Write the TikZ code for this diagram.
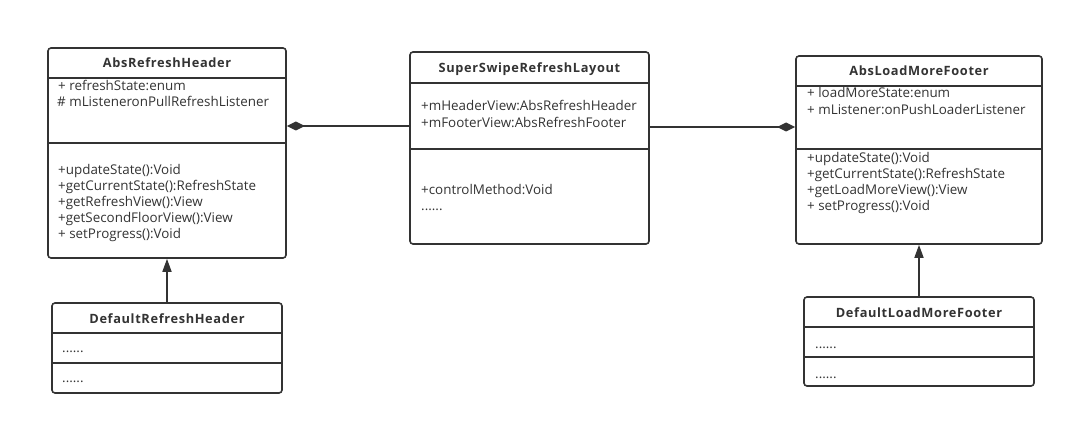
\documentclass[tikz,border=0pt]{standalone}
\usepackage{fontspec}
\setmainfont{Open Sans}
\newfontfamily\titlefont[LetterSpace=5]{Open Sans}
\usetikzlibrary{arrows.meta}
\definecolor{ink}{HTML}{333333}
\tikzset{
  classbox/.style={draw=ink, line width=1.6pt, rounded corners=3pt, inner sep=0pt},
  sep/.style={draw=ink, line width=1.6pt},
  title/.style={anchor=base, inner sep=0pt, text=ink, font=\titlefont\bfseries\fontsize{12.8}{14}\selectfont},
  item/.style={anchor=base west, inner sep=0pt, text=ink, font=\fontsize{13.4}{15}\selectfont},
  compo/.style={draw=ink, line width=1.6pt, -{Diamond[length=18pt,width=9pt]}},
  inherit/.style={draw=ink, line width=1.6pt, -{Triangle[length=13pt,width=9pt]}}
}
\begin{document}
\begin{tikzpicture}[x=1pt,y=-1pt]
				\useasboundingbox (0,0) rectangle (1076,425);
				\node[classbox, minimum width=238pt, minimum height=210pt] (hdr) at (167,153) {};
				\node[classbox, minimum width=239pt, minimum height=192pt] (swipe) at (529.5,148) {};
				\node[classbox, minimum width=246pt, minimum height=188pt] (ftr) at (919,150) {};
				\node[classbox, minimum width=230pt, minimum height=90pt] (dhdr) at (167,348) {};
				\node[classbox, minimum width=230pt, minimum height=89pt] (dftr) at (919,341.5) {};
				
				\draw[sep] (hdr.west |- 0,78) -- (hdr.east |- 0,78);
				\draw[sep] (hdr.west |- 0,143) -- (hdr.east |- 0,143);
				\draw[sep] (swipe.west |- 0,83) -- (swipe.east |- 0,83);
				\draw[sep] (swipe.west |- 0,149) -- (swipe.east |- 0,149);
				\draw[sep] (ftr.west |- 0,86) -- (ftr.east |- 0,86);
				\draw[sep] (ftr.west |- 0,149) -- (ftr.east |- 0,149);
				\draw[sep] (dhdr.west |- 0,333) -- (dhdr.east |- 0,333);
				\draw[sep] (dhdr.west |- 0,363) -- (dhdr.east |- 0,363);
				\draw[sep] (dftr.west |- 0,327) -- (dftr.east |- 0,327);
				\draw[sep] (dftr.west |- 0,357) -- (dftr.east |- 0,357);
				
				\node[title] (hdrname) at (167,68) {AbsRefreshHeader};
				\node[title] (swipename) at (529.5,73) {SuperSwipeRefreshLayout};
				\node[title] (ftrname) at (919,76) {AbsLoadMoreFooter};
				\node[title] (dhdrname) at (167,323) {DefaultRefreshHeader};
				\node[title] (dftrname) at (919,317) {DefaultLoadMoreFooter};
				
				\node[item] (hdra1) at (58,91) {+ refreshState:enum};
				\node[item] (hdra2) at (57,107) {\# mListeneronPullRefreshListener};
				\node[item] (hdrm1) at (58,174) {+updateState():Void};
				\node[item] (hdrm2) at (58,190) {+getCurrentState():RefreshState};
				\node[item] (hdrm3) at (58,206) {+getRefreshView():View};
				\node[item] (hdrm4) at (58,222) {+getSecondFloorView():View};
				\node[item] (hdrm5) at (58,238) {+ setProgress():Void};
				
				\node[item] (swipea1) at (421,111) {+mHeaderView:AbsRefreshHeader};
				\node[item] (swipea2) at (421,128) {+mFooterView:AbsRefreshFooter};
				\node[item] (swipem1) at (421,194) {+controlMethod:Void};
				\node[item] (swipem2) at (421,210) {......};
				
				\node[item] (ftra1) at (807,98) {+ loadMoreState:enum};
				\node[item] (ftra2) at (807,115) {+ mListener:onPushLoaderListener};
				\node[item] (ftrm1) at (807,162) {+updateState():Void};
				\node[item] (ftrm2) at (807,178) {+getCurrentState():RefreshState};
				\node[item] (ftrm3) at (807,194) {+getLoadMoreView():View};
				\node[item] (ftrm4) at (807,210) {+ setProgress():Void};
				
				\node[item] (dhdra) at (62,352) {......};
				\node[item] (dhdrm) at (62,382) {......};
				\node[item] (dftra) at (815,348) {......};
				\node[item] (dftrm) at (815,378) {......};
				
				\draw[compo] (swipe.west |- 0,126) -- (hdr.east |- 0,126);
				\draw[compo] (swipe.east |- 0,127) -- (ftr.west |- 0,127);
				\draw[inherit] (dhdr.north) -- (hdr.south);
				\draw[inherit] (dftr.north) -- (ftr.south);
				\end{tikzpicture}
\end{document}
